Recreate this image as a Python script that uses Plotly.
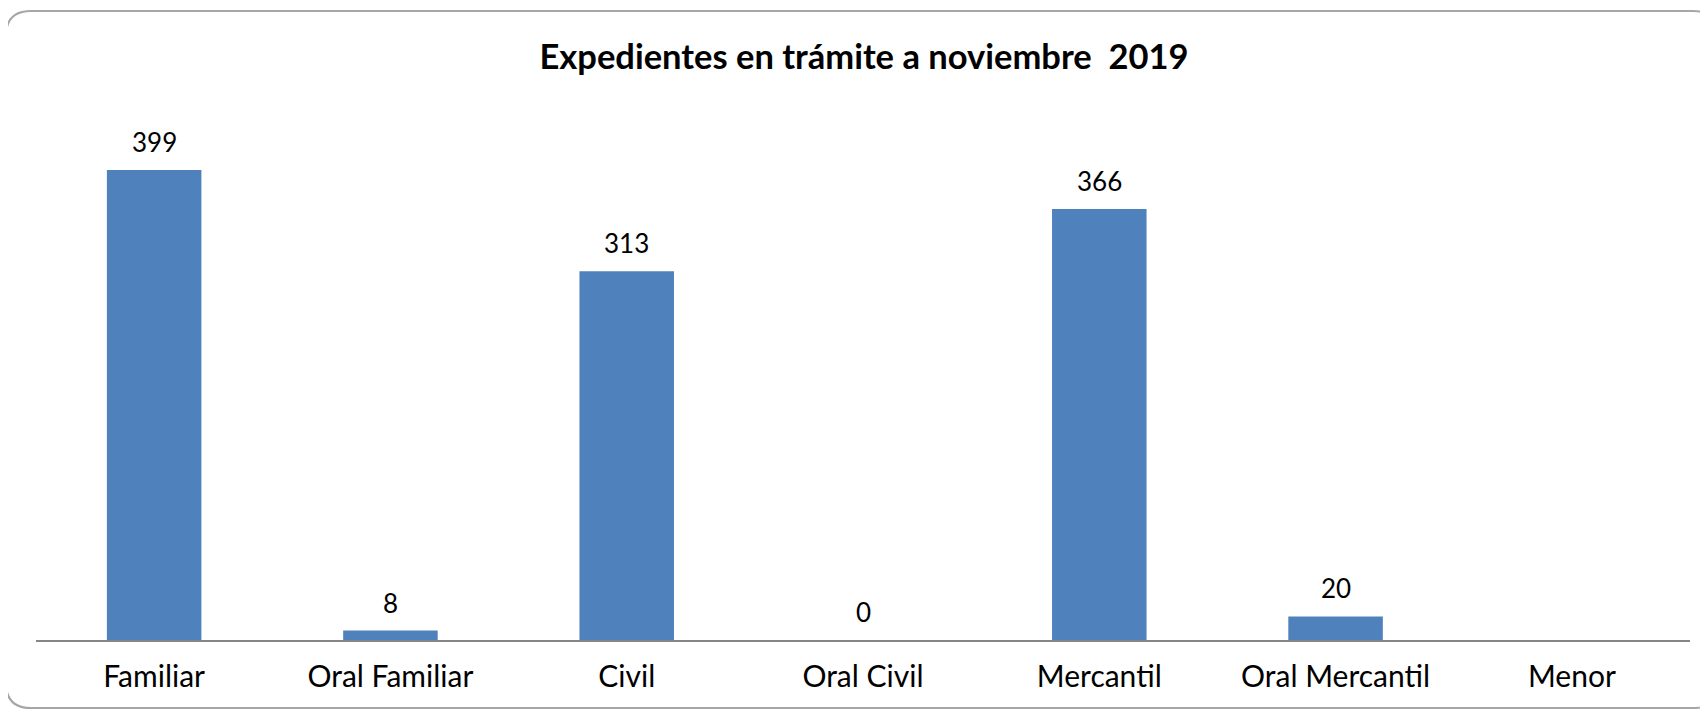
import plotly.graph_objects as go

categories = ["Familiar", "Oral Familiar", "Civil", "Oral Civil", "Mercantil", "Oral Mercantil", "Menor"]
values = [399, 8, 313, 0, 366, 20, None]
labels = ["399", "8", "313", "0", "366", "20", ""]

# page body has an 8px margin; figure fills the rest of the 1708x710 window
W, H = 1700, 702
ML, MR, MT, MB = 28, 18, 102, 70
pw = W - ML - MR
ph = H - MT - MB

FONT = "Lato, sans-serif"

fig = go.Figure()
fig.add_trace(go.Bar(
    x=categories, y=[v if v is not None else 0 for v in values],
    marker=dict(color="#4F81BD", line=dict(width=0)),
    hoverinfo="x+y",
))

for c, v, t in zip(categories, values, labels):
    if v is None:
        continue
    fig.add_annotation(x=c, y=v, text=t, showarrow=False, yanchor="middle",
                       yshift=28, font=dict(family=FONT, size=26, color="#000000"))

# rounded border in paper coordinates
def px2x(px):
    return (px - ML) / pw

def py2y(py):
    return (H - MB - py) / ph

x0, x1 = px2x(-2), px2x(1710)
y0, y1 = py2y(700), py2y(3)
rx, ry = 25 / pw, 25 / ph
path = (f"M {x0+rx},{y1} L {x1-rx},{y1} Q {x1},{y1} {x1},{y1-ry} "
        f"L {x1},{y0+ry} Q {x1},{y0} {x1-rx},{y0} "
        f"L {x0+rx},{y0} Q {x0},{y0} {x0},{y0+ry} "
        f"L {x0},{y1-ry} Q {x0},{y1} {x0+rx},{y1} Z")
fig.add_shape(type="path", path=path, xref="paper", yref="paper",
              line=dict(color="#A6A6A6", width=2), fillcolor="rgba(0,0,0,0)", layer="below")

fig.update_layout(
    width=W, height=H,
    margin=dict(l=ML, r=MR, t=MT, b=MB),
    paper_bgcolor="white", plot_bgcolor="white",
    bargap=0.6,
    showlegend=False,
    title=dict(text="<b>Expedientes en trámite a noviembre\u00a0\u00a02019</b>",
               x=856 / W, xanchor="center", y=1 - 49 / H, yanchor="middle",
               font=dict(family=FONT, size=34.5, color="#000000")),
    font=dict(family=FONT, size=30, color="#000000"),
)
fig.update_xaxes(showline=True, linecolor="#868686", linewidth=2, ticks="",
                 showgrid=False, tickfont=dict(family=FONT, size=30, color="#000000"),
                 ticklabelstandoff=9)
fig.update_yaxes(range=[0, 450], visible=False, showgrid=False, zeroline=False)

fig.write_html("out.html")
